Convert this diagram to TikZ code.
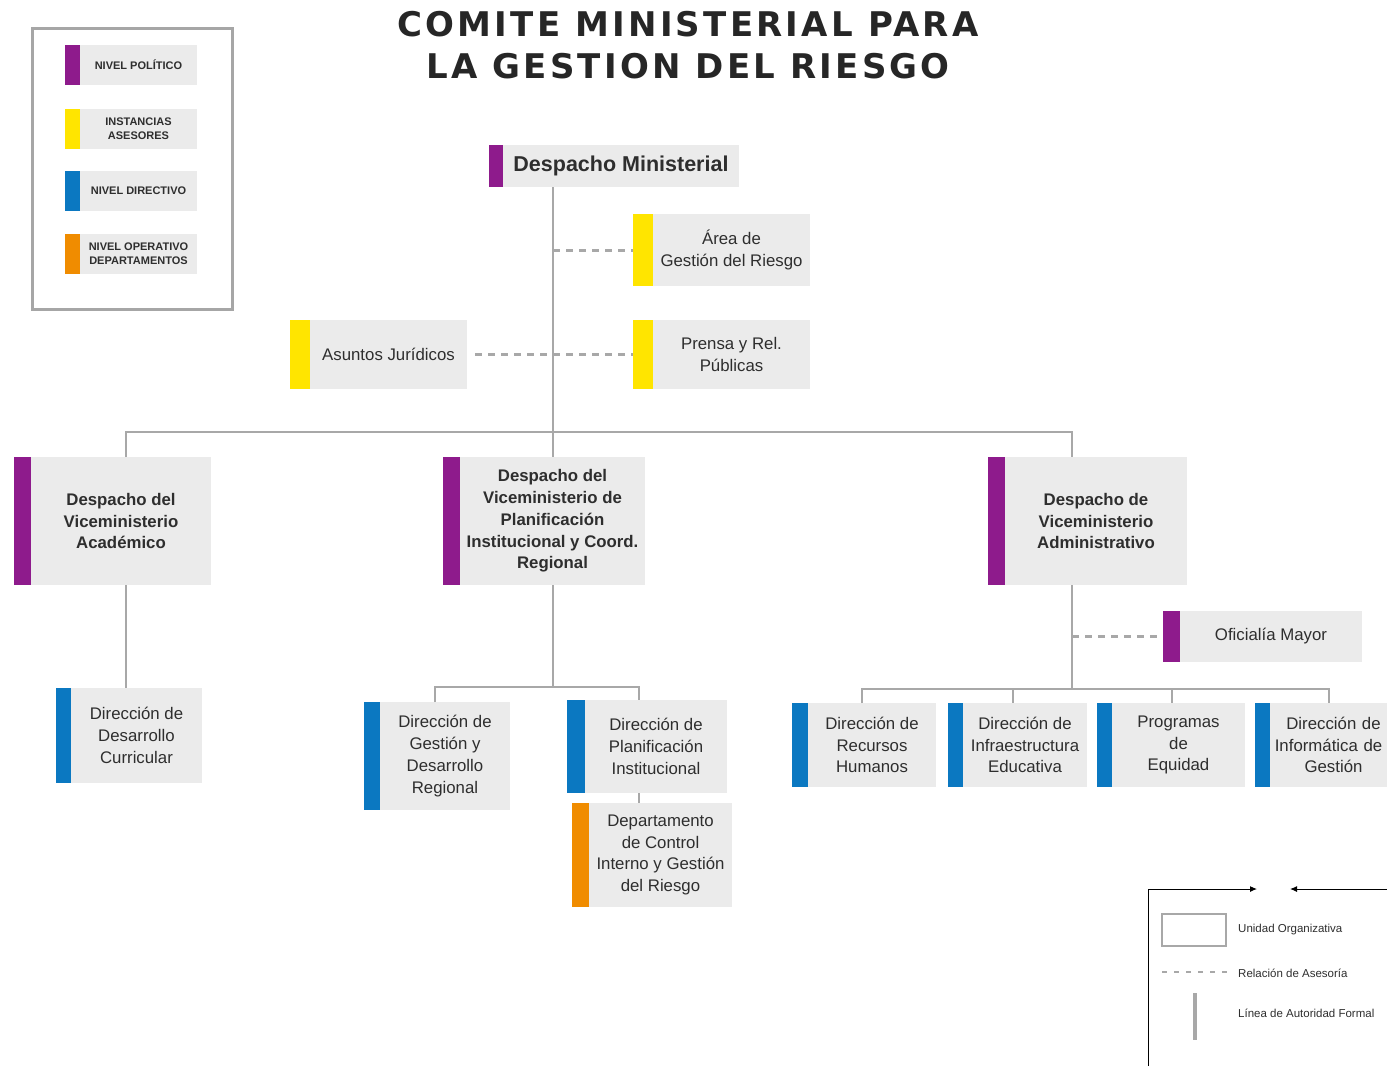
\documentclass[tikz,border=0pt]{standalone}
\usepackage{fontspec}
\setmainfont{Liberation Sans}
\newfontfamily\titlefont{DejaVu Sans}
\usetikzlibrary{arrows.meta, positioning}
\definecolor{politico}{HTML}{8E1B8C}
\definecolor{asesor}{HTML}{FFE500}
\definecolor{directivo}{HTML}{0B78C1}
\definecolor{operativo}{HTML}{F08C00}
\definecolor{boxgray}{HTML}{EBEBEB}
\definecolor{linegray}{HTML}{A8A8A8}
\definecolor{txt}{HTML}{2E2E2E}

\begin{document}
\begin{tikzpicture}[x=1pt, y=-1pt,
    unit/.style={fill=boxgray, inner sep=2pt, outer sep=0pt, align=center, text=txt, font=\fontsize{16.8}{21.7}\selectfont},
    vice/.style={unit, font=\bfseries\fontsize{16.8}{21.7}\selectfont},
    legitem/.style={unit, minimum width=117pt, minimum height=40pt, font=\bfseries\fontsize{11}{14}\selectfont},
    bar/.style={inner sep=0pt, outer sep=0pt, anchor=north east},
    auth/.style={draw=linegray, line width=1.6pt},
    asesoria/.style={draw=linegray, line width=3pt, dash pattern=on 7pt off 6pt},
    tiny/.style={font=\fontsize{11.5}{13}\selectfont, text=txt, anchor=west, inner sep=0pt},
]
\useasboundingbox (0,0) rectangle (1387,1066);

% Title
\node[font=\titlefont\bfseries\fontsize{34}{42}\selectfont\addfontfeatures{LetterSpace=9.5}, text=black!85, align=center] (title) at (688,45) {COMITE MINISTERIAL PARA\\LA GESTION DEL RIESGO};

% Legend (levels)
\draw[draw=gray!70, line width=3pt] (32,28) rectangle (232,309);
\node[legitem] (lp) at (138.5,65) {NIVEL POLÍTICO};
\node[bar, fill=politico, minimum width=15pt, minimum height=40pt] (lp-b) at (lp.north west) {};
\node[legitem] (la) at (138.5,129) {INSTANCIAS\\ASESORES};
\node[bar, fill=asesor, minimum width=15pt, minimum height=40pt] (la-b) at (la.north west) {};
\node[legitem] (ld) at (138.5,191) {NIVEL DIRECTIVO};
\node[bar, fill=directivo, minimum width=15pt, minimum height=40pt] (ld-b) at (ld.north west) {};
\node[legitem] (lo) at (138.5,254) {NIVEL OPERATIVO\\DEPARTAMENTOS};
\node[bar, fill=operativo, minimum width=15pt, minimum height=40pt] (lo-b) at (lo.north west) {};

% Ministerial level
\node[unit, minimum width=236pt, minimum height=42pt, font=\bfseries\fontsize{21.5}{24}\selectfont] (dm) at (621,166) {Despacho Ministerial};
\node[bar, fill=politico, minimum width=14pt, minimum height=42pt] (dm-b) at (dm.north west) {};

% Advisory units
\node[unit, minimum width=157pt, minimum height=72pt] (area) at (731.5,250) {Área de\\Gestión del Riesgo};
\node[bar, fill=asesor, minimum width=20pt, minimum height=72pt] (area-b) at (area.north west) {};
\node[unit, minimum width=157pt, minimum height=69pt] (pre) at (731.5,354.5) {Prensa y Rel.\\Públicas};
\node[bar, fill=asesor, minimum width=20pt, minimum height=69pt] (pre-b) at (pre.north west) {};
\node[unit, minimum width=157pt, minimum height=69pt] (jur) at (388.5,354.5) {Asuntos Jurídicos};
\node[bar, fill=asesor, minimum width=20pt, minimum height=69pt] (jur-b) at (jur.north west) {};

% Vice-ministries
\node[vice, minimum width=180pt, minimum height=128pt] (acad) at (121,521) {Despacho del\\Viceministerio\\Académico};
\node[bar, fill=politico, minimum width=17pt, minimum height=128pt] (acad-b) at (acad.north west) {};
\node[vice, minimum width=185pt, minimum height=128pt] (plan) at (552.5,521) {Despacho del\\Viceministerio de\\Planificación\\Institucional y Coord.\\Regional};
\node[bar, fill=politico, minimum width=17pt, minimum height=128pt] (plan-b) at (plan.north west) {};
\node[vice, minimum width=182pt, minimum height=128pt] (admin) at (1096,521) {Despacho de\\Viceministerio\\Administrativo};
\node[bar, fill=politico, minimum width=17pt, minimum height=128pt] (admin-b) at (admin.north west) {};

% Oficialia Mayor
\node[unit, minimum width=182pt, minimum height=51pt] (ofm) at (1271,636.5) {Oficialía Mayor};
\node[bar, fill=politico, minimum width=17pt, minimum height=51pt] (ofm-b) at (ofm.north west) {};

% Directorates
\node[unit, minimum width=131pt, minimum height=95pt] (curr) at (136.5,735.5) {Dirección de\\Desarrollo\\Curricular};
\node[bar, fill=directivo, minimum width=15pt, minimum height=95pt] (curr-b) at (curr.north west) {};
\node[unit, minimum width=130pt, minimum height=108pt] (gdr) at (445,756) {Dirección de\\Gestión y\\Desarrollo\\Regional};
\node[bar, fill=directivo, minimum width=16pt, minimum height=108pt] (gdr-b) at (gdr.north west) {};
\node[unit, minimum width=142pt, minimum height=93pt] (pinst) at (656,746.5) {Dirección de\\Planificación\\Institucional};
\node[bar, fill=directivo, minimum width=18pt, minimum height=93pt] (pinst-b) at (pinst.north west) {};
\node[unit, minimum width=143pt, minimum height=104pt] (dcig) at (660.5,855) {Departamento\\de Control\\Interno y Gestión\\del Riesgo};
\node[bar, fill=operativo, minimum width=17pt, minimum height=104pt] (dcig-b) at (dcig.north west) {};
\node[unit, minimum width=128pt, minimum height=84pt] (rrhh) at (872,745) {Dirección de\\Recursos\\Humanos};
\node[bar, fill=directivo, minimum width=16pt, minimum height=84pt] (rrhh-b) at (rrhh.north west) {};
\node[unit, minimum width=124pt, minimum height=84pt] (infra) at (1025,745) {Dirección de\\Infraestructura\\Educativa};
\node[bar, fill=directivo, minimum width=15pt, minimum height=84pt] (infra-b) at (infra.north west) {};
\node[unit, minimum width=133pt, minimum height=84pt] (equi) at (1178.5,745) {Programas\\de\\Equidad};
\node[bar, fill=directivo, minimum width=15pt, minimum height=84pt] (equi-b) at (equi.north west) {};
\node[unit, minimum width=117pt, minimum height=84pt, text width=113pt] (info) at (1328.5,745) {\hspace*{10pt}\mbox{Dirección de}\\\mbox{Informática de}\\\hspace*{10pt}\mbox{Gestión}};
\node[bar, fill=directivo, minimum width=15pt, minimum height=84pt] (info-b) at (info.north west) {};

% Lines of formal authority
\coordinate (t0) at (553,432);
\coordinate (ja) at (126,432);
\coordinate (jc) at (1072,432);
\coordinate (jp) at (553,687);
\coordinate (jd) at (1072,689);
\draw[auth] (t0 |- dm.south) -- (t0) -- (t0 |- plan.north);
\draw[auth] (ja |- acad.north) -- (ja) -- (jc) -- (jc |- admin.north);
\draw[auth] (ja |- acad.south) -- (ja |- curr.north);
\draw[auth] (jp |- plan.south) -- (jp);
\draw[auth] (gdr.north -| 435,0) -- (435,687) -- (639,687) -- (639,0 |- pinst.north);
\draw[auth] (639,0 |- pinst.south) -- (639,0 |- dcig.north);
\draw[auth] (jd |- admin.south) -- (jd);
\draw[auth] (862,0 |- rrhh.north) -- (862,689) -- (1329,689) -- (1329,0 |- info.north);
\draw[auth] (1013,689) -- (1013,0 |- infra.north);
\draw[auth] (1172,689) -- (1172,0 |- equi.north);

% Advisory relations
\draw[asesoria] (t0 |- area) -- (area-b.west);
\draw[asesoria] ([xshift=8pt]jur.east) -- (pre-b.west);
\draw[asesoria] (jd |- ofm) -- (ofm-b.west);

% Legend (lines)
\coordinate (lg0) at (1148,1066);
\coordinate (lg1) at (1148,889);
\coordinate (lg2) at (1257,889);
\coordinate (lg3) at (1387,889);
\coordinate (lg4) at (1290,889);
\draw[line width=1pt, -{Latex[length=7pt, width=6pt]}] (lg0) -- (lg1) -- (lg2);
\draw[line width=1pt, -{Latex[length=7pt, width=6pt]}] (lg3) -- (lg4);
\draw[draw=linegray, line width=2pt] (1162,914) rectangle (1226,946);
\node[tiny] (lt1) at (1238,930) {Unidad Organizativa};
\draw[asesoria, line width=2.5pt, dash pattern=on 5pt off 7pt] (1162,972) -- (1228,972);
\node[tiny] (lt2) at (1238,973) {Relación de Asesoría};
\draw[draw=linegray, line width=4pt] (1195,993) -- (1195,1040);
\node[tiny] (lt3) at (1238,1013) {Línea de Autoridad Formal};
\end{tikzpicture}
\end{document}
